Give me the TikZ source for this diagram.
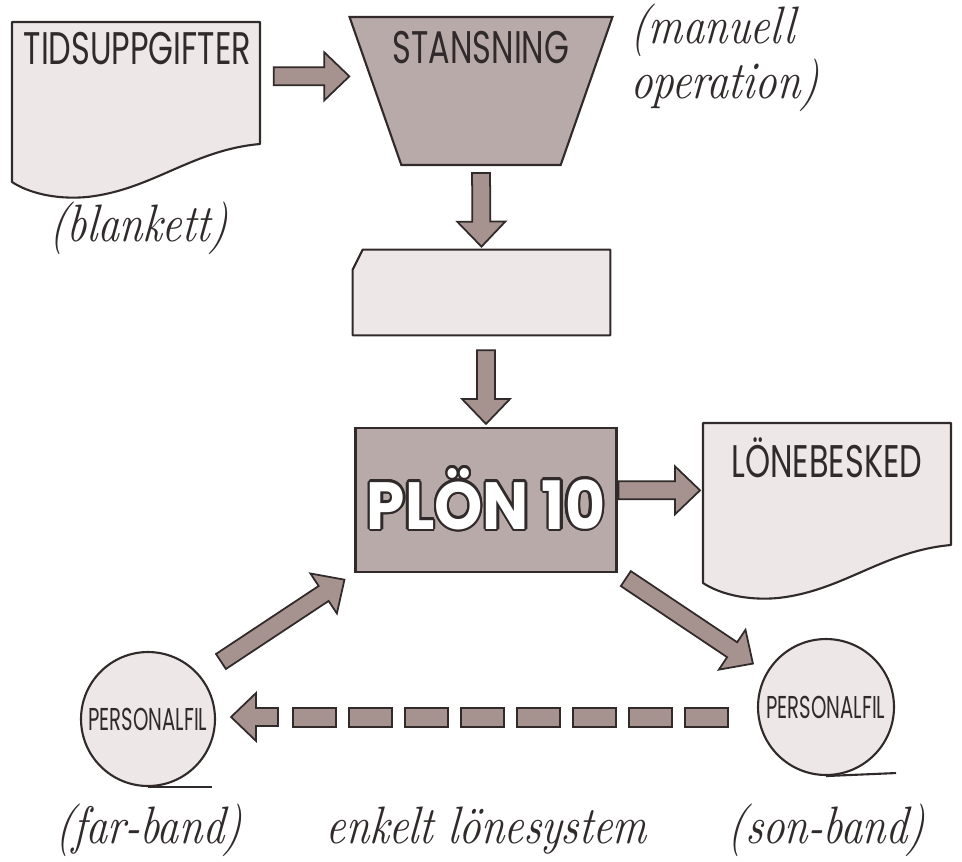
\documentclass[tikz,border=0pt]{standalone}
\usepackage{fontspec}
\usepackage[copies]{contour}
\usetikzlibrary{calc,positioning,shapes.geometric}

\newfontfamily\tagfont[FakeStretch=0.7]{Poppins}
\newfontfamily\filfont[FakeStretch=0.62]{Poppins}
\newfontfamily\bigfont[FakeStretch=0.92]{Poppins}
\newfontfamily\handfont[FakeStretch=0.8,FakeSlant=0.08]{lmroman10-italic.otf}

\definecolor{ink}{RGB}{48,42,42}
\definecolor{papercol}{RGB}{237,232,231}
\definecolor{slabcol}{RGB}{183,170,168}
\definecolor{arrowcol}{RGB}{166,146,142}

\contourlength{1.3pt}

% fat outlined arrow between two points, with gaps at both ends
\newcommand{\fatarrow}[4]{%
  \coordinate (fa-a) at ($(#1)!#3!(#2)$);
  \coordinate (fa-b) at ($(#2)!#4!(#1)$);
  \coordinate (fa-h) at ($(fa-b)!0.5cm!(fa-a)$);
  \draw[blockarrow] ($(fa-a)!0.18cm!90:(fa-b)$) -- ($(fa-h)!0.18cm!90:(fa-b)$)
    -- ($(fa-h)!0.48cm!90:(fa-b)$) -- (fa-b) -- ($(fa-h)!0.48cm!-90:(fa-b)$)
    -- ($(fa-h)!0.18cm!-90:(fa-b)$) -- ($(fa-a)!0.18cm!-90:(fa-b)$) -- cycle;
}

\tikzset{
  paperdoc/.pic={
    \draw[paper] (0,0) -- (248,0) -- (248,122)
      .. controls (180,128) and (140,168) .. (75,175)
      .. controls (42,178) and (15,170) .. (0,160) -- cycle;
  }
}

\begin{document}
\begin{tikzpicture}[x=0.02cm, y=-0.02cm,
    paper/.style={draw=ink, fill=papercol, line width=1.2pt, line join=round},
    slab/.style={draw=ink, fill=slabcol, line width=1.2pt},
    blockarrow/.style={draw=ink, fill=arrowcol, line width=1pt},
    tag/.style={font=\tagfont\fontsize{26}{26}\selectfont, text=ink, inner sep=0pt},
    filtag/.style={font=\filfont\fontsize{18}{18}\selectfont, text=ink},
    hand/.style={font=\handfont\fontsize{30}{27}\selectfont, text=ink, inner sep=0pt},
    spot/.style={inner sep=0pt}]
  \useasboundingbox (0,0) rectangle (962,861);

  % time sheet and punching
  \path (12,22) pic {paperdoc};
  \node[spot, anchor=north west, minimum width=5cm, minimum height=2.16cm] (tids) at (12,22) {};
  \node[tag, below=0.2cm of tids.north] {TIDSUPPGIFTER};
  \node[hand] (blank) at (138,228) {(blankett)};

  \node[slab, trapezium, shape border rotate=180, trapezium angle=72,
    trapezium stretches=true, minimum width=5.26cm, minimum height=2.96cm] (stans) at (481,91) {};
  \node[tag] at ([yshift=0.86cm]stans.center) {STANSNING};
  \node[hand, anchor=north west, align=left] at (630,4) {(manuell\\operation)};

  % punched card, corner cut off
  \node[spot, minimum width=5.14cm, minimum height=1.7cm] (card) at (481.5,292.5) {};
  \draw[paper] ($(card.north west)+(0,20)$) -- ($(card.north west)+(10,0)$)
    -- (card.north east) -- (card.south east) -- (card.south west) -- cycle;

  % the program
  \node[slab, minimum width=5.22cm, minimum height=2.88cm, text=white,
    font=\bigfont\bfseries\fontsize{38}{38}\selectfont] (plon) at (486,500) {\contour{ink}{PLÖN 10}};

  \path (703,423) pic {paperdoc};
  \node[spot, anchor=north west, minimum width=4.94cm, minimum height=2.68cm] (lonb) at (703,423) {};
  \node[tag, below=0.28cm of lonb.north] {LÖNEBESKED};

  % tapes
  \node[paper, circle, minimum size=2.68cm, inner sep=0pt, filtag] (lfil) at (148,719) {PERSONALFIL};
  \draw[paper] (lfil.south) -- ++(64,0);
  \node[paper, circle, minimum size=2.72cm, inner sep=0pt, filtag] (rfil) at (826,707) {PERSONALFIL};
  \draw[paper] (rfil.south) -- ++(70,-3);

  % flow
  \fatarrow{tids.east}{stans.west |- tids.east}{0.22cm}{0.5cm}
  \fatarrow{stans.south}{card.north}{0.14cm}{0.06cm}
  \fatarrow{plon.north |- card.south}{plon.north}{0.3cm}{0.06cm}
  \fatarrow{plon.east |- lonb.west}{lonb.west}{0.02cm}{0.06cm}
  \fatarrow{plon.south east}{rfil.150}{0.2cm}{0.32cm}
  \fatarrow{lfil.40}{plon.south west}{0.5cm}{0.24cm}

  % son tape copied back to far tape
  \coordinate (dashtail) at ($(lfil.east)+(62,-2)$);
  \fatarrow{dashtail}{lfil.east |- dashtail}{0cm}{0.3cm}
  \foreach \x in {293,349,...,685}
    \draw[blockarrow] (\x,708) rectangle ++(43,19);

  \node[hand, below=0.34cm of lfil] (farb) {(far-band)};
  \node[hand, anchor=base] at (plon |- farb.base) {enkelt lönesystem};
  \node[hand, anchor=base] at (rfil |- farb.base) {(son-band)};
\end{tikzpicture}
\end{document}
